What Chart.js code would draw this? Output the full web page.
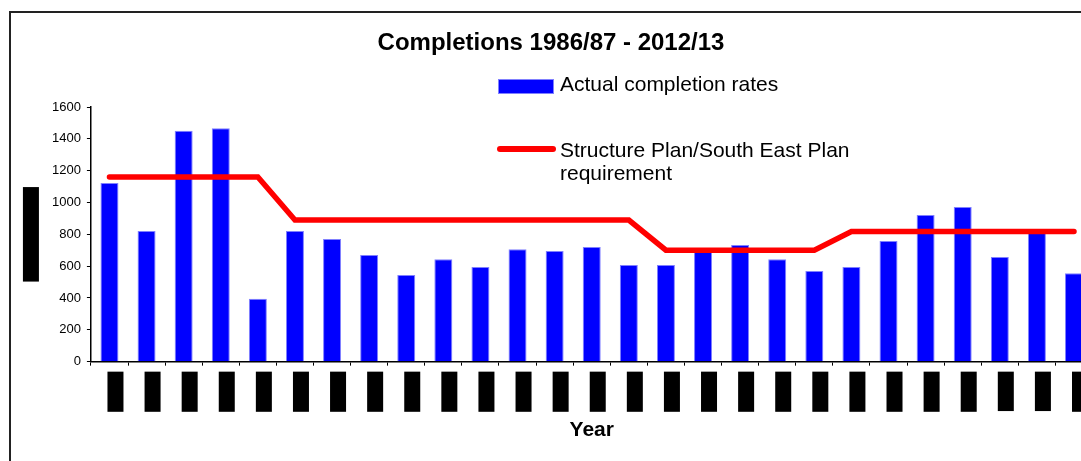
<!DOCTYPE html>
<html>
<head>
<meta charset="utf-8">
<script src="https://cdn.jsdelivr.net/npm/chart.js@4"></script>
<style>
    html, body { margin: 0; padding: 0; background: #fff; overflow: hidden; }
    body { width: 1081px; height: 461px; position: relative; font-family: 'Liberation Sans', Arial, sans-serif; }
    #frame { position: absolute; left: 9px; top: 11px; width: 1200px; height: 600px; border-left: 2px solid #222; border-top: 2px solid #222; }
    #chart-wrap { position: absolute; left: 10px; top: 0; width: 1084px; height: 461px; }
    #title { position: absolute; left: 0; top: 27px; width: 1102px; text-align: center; font-weight: bold; font-size: 24px; line-height: 30px; color: #000; }
    .key { position: absolute; font-size: 21px; color: #000; white-space: normal; }
    .swatch-bar { position: absolute; left: 498px; top: 79px; width: 56px; height: 15px; box-sizing: border-box; background: #0000ff; border: 1px solid #8080ff; }
    .swatch-line { position: absolute; left: 497px; top: 146px; width: 59px; height: 6px; border-radius: 3px; background: #ff0000; }
</style>
</head>
<body>
<div id="frame"></div>
<div id="chart-wrap"><canvas id="completions-chart"></canvas></div>
<div id="title">Completions 1986/87 - 2012/13</div>
<div class="swatch-bar"></div>
<div class="key" style="left:560px; top:72px; line-height:24px;">Actual completion rates</div>
<div class="swatch-line"></div>
<div class="key" style="left:560px; top:138px; width:300px; line-height:23px;">Structure Plan/South East Plan requirement</div>

<script>
// Financial years on the x axis
const years = [
    '1986/87', '1987/88', '1988/89', '1989/90', '1990/91', '1991/92', '1992/93',
    '1993/94', '1994/95', '1995/96', '1996/97', '1997/98', '1998/99', '1999/00',
    '2000/01', '2001/02', '2002/03', '2003/04', '2004/05', '2005/06', '2006/07',
    '2007/08', '2008/09', '2009/10', '2010/11', '2011/12', '2012/13'
];

// Dwellings completed each year
const actualCompletions = [
    1123, 821, 1451, 1466, 395, 821, 770, 670, 544, 644, 594, 707, 695, 720,
    607, 607, 690, 733, 644, 569, 594, 758, 922, 972, 657, 821, 556
];

// Annual requirement from the Structure Plan / South East Plan
const planRequirement = [
    1160, 1160, 1160, 1160, 1160, 890, 890, 890, 890, 890, 890, 890, 890, 890,
    890, 700, 700, 700, 700, 700, 818, 818, 818, 818, 818, 818, 818
];

const yTicks = [0, 200, 400, 600, 800, 1000, 1200, 1400, 1600];
const yAxisLabel = 'Number of dwellings';

const FONT = "'Liberation Sans', Arial, sans-serif";

// y axis title sits in a solid black block
const yTitleBlock = {
    id: 'yTitleBlock',
    afterDraw(chart) {
        const ctx = chart.ctx;
        const area = chart.chartArea;
        const cx = area.left - 60;
        const cy = (area.top + area.bottom) / 2;
        ctx.save();
        ctx.font = `bold 9px ${FONT}`;
        const w = ctx.measureText(yAxisLabel).width + 6;
        ctx.fillStyle = '#000';
        ctx.fillRect(cx - 8, cy - w / 2, 16, w);
        ctx.translate(cx, cy);
        ctx.rotate(-Math.PI / 2);
        ctx.textAlign = 'center';
        ctx.textBaseline = 'middle';
        ctx.fillText(yAxisLabel, 0, 0);
        ctx.restore();
    }
};

new Chart(document.getElementById('completions-chart'), {
    data: {
        labels: years,
        datasets: [
            {
                type: 'line',
                label: 'Structure Plan/South East Plan requirement',
                data: planRequirement,
                borderColor: '#ff0000',
                borderWidth: 5.5,
                borderCapStyle: 'round',
                borderJoinStyle: 'miter',
                pointRadius: 0,
                tension: 0,
                order: 0
            },
            {
                type: 'bar',
                label: 'Actual completion rates',
                data: actualCompletions,
                backgroundColor: '#0000ff',
                borderColor: '#8080ff',
                borderWidth: 1,
                categoryPercentage: 1,
                barPercentage: 0.485,
                order: 1
            }
        ]
    },
    options: {
        responsive: true,
        maintainAspectRatio: false,
        animation: false,
        layout: { padding: { top: 107, left: 36, right: 0, bottom: 18 } },
        plugins: {
            legend: { display: false },
            title: { display: false },
            tooltip: { enabled: false }
        },
        scales: {
            x: {
                grid: { drawOnChartArea: false, drawTicks: true, tickLength: 4, color: '#000' },
                border: { color: '#000', width: 1.5 },
                ticks: {
                    color: '#000',
                    font: { family: FONT, size: 10 },
                    minRotation: 90,
                    maxRotation: 90,
                    autoSkip: false,
                    padding: 8,
                    showLabelBackdrop: true,
                    backdropColor: '#000',
                    backdropPadding: 2
                },
                title: {
                    display: true,
                    text: 'Year',
                    color: '#000',
                    font: { family: FONT, size: 21, weight: 'bold' },
                    padding: { top: 0, bottom: 0 }
                }
            },
            y: {
                min: 0,
                max: 1600,
                afterBuildTicks: scale => { scale.ticks = yTicks.map(v => ({ value: v })); },
                grid: { drawOnChartArea: false, drawTicks: true, tickLength: 4, color: '#000' },
                border: { color: '#000', width: 1.5 },
                ticks: {
                    color: '#000',
                    font: { family: FONT, size: 13 },
                    padding: 6,
                    callback: value => String(value)
                }
            }
        }
    },
    plugins: [yTitleBlock]
});
</script>
</body>
</html>
